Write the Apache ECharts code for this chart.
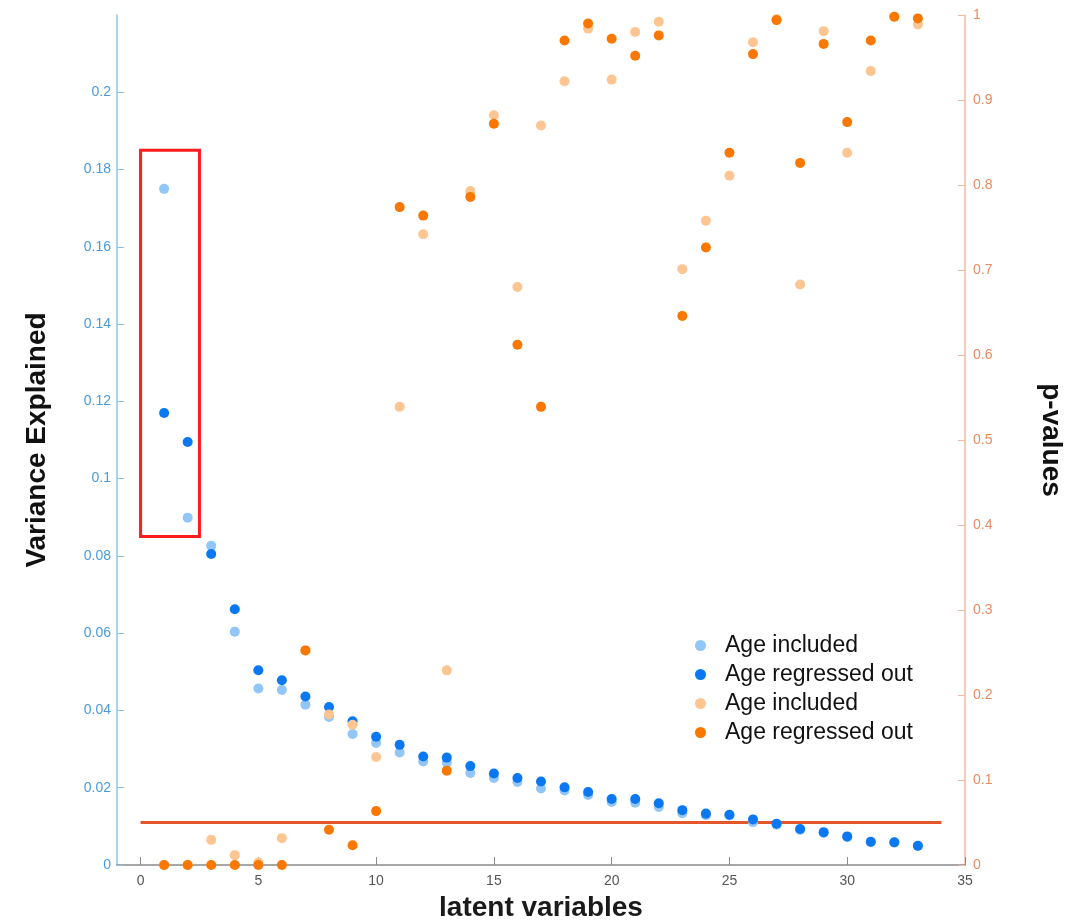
<!DOCTYPE html>
<html>
<head>
<meta charset="utf-8">
<title>Variance explained and p-values per latent variable</title>
<script src="https://cdn.jsdelivr.net/npm/echarts@6/dist/echarts.min.js"></script>
<style>
  html, body { margin: 0; padding: 0; background: #ffffff; }
  #chart { width: 1070px; height: 922px; }
</style>
</head>
<body>
<div id="chart"></div>
<script>
// Latent variable index (x axis)
const latentVars = [1, 2, 3, 4, 5, 6, 7, 8, 9, 10, 11, 12, 13, 14, 15, 16, 17,
  18, 19, 20, 21, 22, 23, 24, 25, 26, 27, 28, 29, 30, 31, 32, 33];

// Variance explained (left axis)
const varianceAgeIncluded = [0.175, 0.0899, 0.0826, 0.0604, 0.0457, 0.0453, 0.0415,
  0.0383, 0.0339, 0.0316, 0.0291, 0.0268, 0.0265, 0.0238, 0.0225, 0.0215, 0.0198,
  0.0193, 0.0181, 0.0163, 0.0161, 0.0150, 0.0134, 0.0129, 0.0128, 0.0111, 0.0104,
  0.0091, 0.0083, 0.0072, 0.0059, 0.0058, 0.0049];
const varianceAgeRegressed = [0.117, 0.1095, 0.0805, 0.0662, 0.0504, 0.0478, 0.0436,
  0.0409, 0.0372, 0.0332, 0.0311, 0.0281, 0.0278, 0.0256, 0.0237, 0.0225, 0.0216,
  0.0201, 0.0189, 0.0171, 0.0171, 0.0160, 0.0142, 0.0133, 0.0130, 0.0118, 0.0107,
  0.0093, 0.0085, 0.0074, 0.0060, 0.0059, 0.0050];

// p-values (right axis)
const pAgeIncluded = [0, 0, 0.0296, 0.0116, 0.003, 0.0316, 0.2525, 0.177, 0.165, 0.127,
  0.539, 0.742, 0.229, 0.793, 0.882, 0.680, 0.870, 0.922, 0.984, 0.924, 0.980, 0.992,
  0.701, 0.758, 0.811, 0.968, 0.995, 0.683, 0.981, 0.838, 0.934, 0.998, 0.989];
const pAgeRegressed = [0, 0, 0, 0, 0, 0, 0.2525, 0.0414, 0.0233, 0.0634, 0.774, 0.764,
  0.111, 0.786, 0.872, 0.612, 0.539, 0.970, 0.990, 0.972, 0.952, 0.976, 0.646, 0.7265,
  0.838, 0.954, 0.994, 0.826, 0.966, 0.874, 0.970, 0.998, 0.996];

// Significance threshold and the span it is drawn over
const significanceLevel = 0.05;
const thresholdSpan = [0, 34];

// Highlighted region around the first latent variables: [x0, y0, x1, y1] in variance units
const highlightRegion = [0, 0.185, 2.5, 0.085];

// Tick values
const xTicks = [0, 5, 10, 15, 20, 25, 30, 35];
const varianceTicks = [0, 0.02, 0.04, 0.06, 0.08, 0.1, 0.12, 0.14, 0.16, 0.18, 0.2];
const pTicks = [0, 0.1, 0.2, 0.3, 0.4, 0.5, 0.6, 0.7, 0.8, 0.9, 1];

// Legend labels
const seriesNames = ['Variance, age included', 'Variance, age regressed out',
  'p, age included', 'p, age regressed out'];
const legendLabels = ['Age included', 'Age regressed out', 'Age included', 'Age regressed out'];

const colors = {
  lightBlue: '#92c6f7',
  blue: '#0a78f2',
  lightOrange: '#fcc591',
  orange: '#fa7700',
  threshold: '#e4572a',
  box: '#ff1c1c',
  leftAxis: '#4a9bda',
  leftAxisLine: '#8cc3ea',
  rightAxis: '#ec8a5e',
  rightAxisLine: '#f2b9a1'
};

const FONT = '"Liberation Sans", Arial, Helvetica, sans-serif';

const pairs = (ys) => latentVars.map((x, i) => [x, ys[i]]);

const chart = echarts.init(document.getElementById('chart'), null, { renderer: 'canvas' });

const scatterBase = { type: 'scatter', symbol: 'circle', symbolSize: 10, xAxisIndex: 0 };

const option = {
  backgroundColor: '#ffffff',
  animation: false,
  grid: {
    left: 117, right: 105, top: 15, bottom: 57,
    containLabel: false,
    outerBoundsMode: 'none'
  },
  legend: {
    data: seriesNames,
    orient: 'vertical',
    left: 690,
    top: 629,
    icon: 'circle',
    itemWidth: 11,
    itemHeight: 11,
    itemGap: 6,
    formatter: (name) => legendLabels[seriesNames.indexOf(name)],
    textStyle: {
      fontFamily: FONT,
      fontSize: 23,
      lineHeight: 23,
      color: '#111111',
      padding: [0, 0, 0, 14]
    }
  },
  xAxis: {
    type: 'value',
    min: -1,
    max: 35,
    name: 'latent variables',
    nameLocation: 'middle',
    nameGap: 29,
    nameTextStyle: { fontFamily: FONT, fontSize: 28, fontWeight: 'bold', color: '#1a1a1a' },
    axisLine: { show: true, onZero: false, lineStyle: { color: '#8a8a8a', width: 1.5 } },
    axisTick: { show: true, inside: true, length: 8, customValues: xTicks, lineStyle: { color: '#8a8a8a' } },
    axisLabel: { customValues: xTicks, fontFamily: FONT, fontSize: 14, color: '#555555', margin: 9 },
    splitLine: { show: false }
  },
  yAxis: [
    {
      type: 'value',
      position: 'left',
      min: 0,
      max: 0.22,
      name: 'Variance Explained',
      nameLocation: 'middle',
      nameGap: 66,
      nameRotate: 90,
      nameTextStyle: { fontFamily: FONT, fontSize: 28, fontWeight: 'bold', color: '#111111' },
      axisLine: { show: true, onZero: false, lineStyle: { color: colors.leftAxisLine, width: 1.5 } },
      axisTick: { show: true, inside: true, length: 7, customValues: varianceTicks, lineStyle: { color: colors.leftAxisLine } },
      axisLabel: { customValues: varianceTicks, fontFamily: FONT, fontSize: 14, color: colors.leftAxis, margin: 6 },
      splitLine: { show: false }
    },
    {
      type: 'value',
      position: 'right',
      min: 0,
      max: 1,
      name: 'p-values',
      nameLocation: 'middle',
      nameGap: 72,
      nameRotate: -90,
      nameTextStyle: { fontFamily: FONT, fontSize: 28, fontWeight: 'bold', color: '#111111' },
      axisLine: { show: true, onZero: false, lineStyle: { color: colors.rightAxisLine, width: 1.5 } },
      axisTick: { show: true, inside: true, length: 7, customValues: pTicks, lineStyle: { color: colors.rightAxisLine } },
      axisLabel: { customValues: pTicks, fontFamily: FONT, fontSize: 14, color: colors.rightAxis, margin: 8 },
      splitLine: { show: false }
    }
  ],
  series: [
    {
      name: 'threshold',
      type: 'line',
      yAxisIndex: 1,
      data: thresholdSpan.map((x) => [x, significanceLevel]),
      symbol: 'none',
      lineStyle: { color: colors.threshold, width: 3 },
      z: 1,
      silent: true
    },
    Object.assign({}, scatterBase, {
      name: seriesNames[0],
      yAxisIndex: 0,
      data: pairs(varianceAgeIncluded),
      itemStyle: { color: colors.lightBlue, opacity: 1 },
      z: 2,
      markArea: {
        silent: true,
        itemStyle: { color: 'rgba(0,0,0,0)', borderColor: colors.box, borderWidth: 3 },
        data: [[
          { xAxis: highlightRegion[0], yAxis: highlightRegion[1] },
          { xAxis: highlightRegion[2], yAxis: highlightRegion[3] }
        ]]
      }
    }),
    Object.assign({}, scatterBase, {
      name: seriesNames[1],
      yAxisIndex: 0,
      data: pairs(varianceAgeRegressed),
      itemStyle: { color: colors.blue, opacity: 1 },
      z: 3
    }),
    Object.assign({}, scatterBase, {
      name: seriesNames[2],
      yAxisIndex: 1,
      data: pairs(pAgeIncluded),
      itemStyle: { color: colors.lightOrange, opacity: 1 },
      z: 4
    }),
    Object.assign({}, scatterBase, {
      name: seriesNames[3],
      yAxisIndex: 1,
      data: pairs(pAgeRegressed),
      itemStyle: { color: colors.orange, opacity: 1 },
      z: 5
    })
  ]
};

chart.setOption(option);
</script>
</body>
</html>
